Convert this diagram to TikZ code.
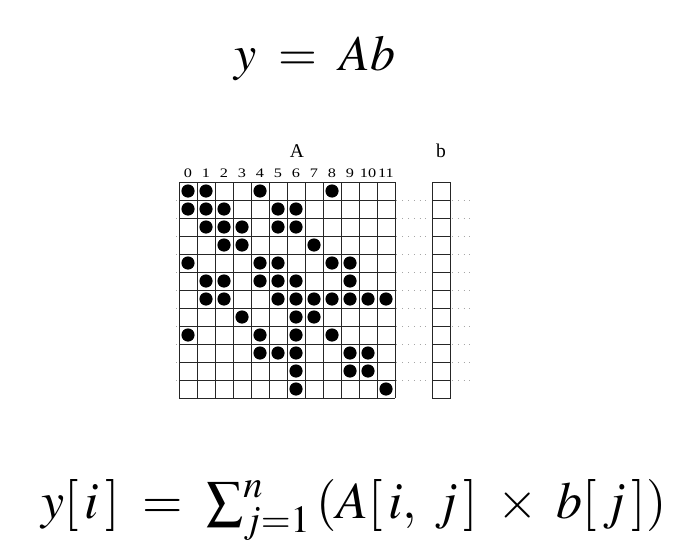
\documentclass[tikz,border=0pt]{standalone}
\usepackage{mathptmx}
\usepackage{fontspec}
\setmainfont{Liberation Serif}
\begin{document}
\begin{tikzpicture}[x=1pt,y=-1pt]
            \useasboundingbox (0,0) rectangle (681,554);
            \tikzset{
                bigeq/.style={anchor=base, inner sep=0pt},
                collabel/.style={anchor=base, inner sep=0pt, font=\fontsize{13}{15}\selectfont},
                vecname/.style={anchor=base, inner sep=0pt, font=\fontsize{19.5}{22}\selectfont},
                rowdots/.style={gray!70, line width=0.7pt, dash pattern=on 0.8pt off 5pt},
                cell/.style={line width=1pt, draw=black!85}
            }

            \node[bigeq, font=\fontsize{50}{58}\selectfont] (prod) at (315,70) {$y \;=\; Ab$};

            % dotted row guides, behind the boxes
            \foreach \r in {1,...,11} {
                    \draw[rowdots] (176,182+18*\r) -- (431,182+18*\r);
                    \draw[rowdots] (452,182+18*\r) -- (473,182+18*\r);
                }
            \fill[white] (179,182) rectangle (395,398);
            \fill[white] (432,182) rectangle (450,398);

            % matrix A
            \foreach \i in {0,...,12} {
                    \draw[cell] (179+18*\i,182) -- (179+18*\i,398);
                    \draw[cell] (179,182+18*\i) -- (395,182+18*\i);
                }
            \foreach \c in {0,...,11} {
                    \node[collabel] (col\c) at (188+18*\c,177) {\scalebox{1.25}[1]{\c}};
                }
            \node[vecname] (nameA) at (297,157) {A};

            \foreach \r/\cols in {0/{0,1,4,8}, 1/{0,1,2,5,6}, 2/{1,2,3,5,6}, 3/{2,3,7},
                    4/{0,4,5,8,9}, 5/{1,2,4,5,6,9}, 6/{1,2,5,6,7,8,9,10,11}, 7/{3,6,7},
                    8/{0,4,6,8}, 9/{4,5,6,9,10}, 10/{6,9,10}, 11/{6,11}} {
                    \foreach \c in \cols {
                            \fill (188+18*\c,191+18*\r) circle (6.6);
                        }
                }

            % vector b
            \draw[cell] (432,182) rectangle (450,398);
            \foreach \r in {1,...,11} {
                    \draw[cell] (432,182+18*\r) -- (450,182+18*\r);
                }
            \node[vecname] (nameb) at (441,157) {b};

            \node[bigeq, font=\fontsize{52}{60}\selectfont] (rowsum) at (354,518)
                {$y[\,i\,] \;=\; \textstyle\sum_{j=1}^{n}\,(A[\,i,\; j\,] \;\times\; b[\,j\,])$};
        \end{tikzpicture}
\end{document}
